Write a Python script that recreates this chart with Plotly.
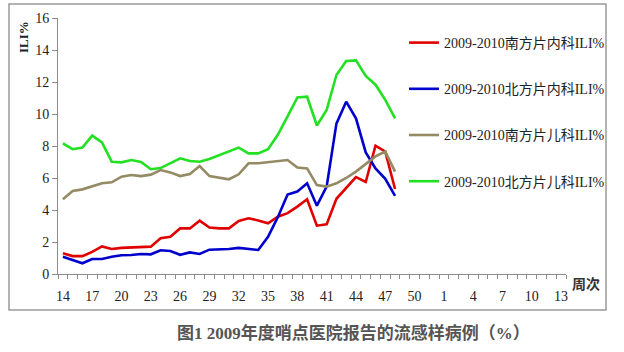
import plotly.graph_objects as go

# ---- data ----
week_labels = [str(w) for w in range(14, 53)] + [str(w) for w in range(1, 14)]
tick_labels = ["14", "17", "20", "23", "26", "29", "32", "35", "38", "41", "44", "47", "50",
               "1", "4", "7", "10", "13"]

south_internal = [1.29, 1.12, 1.12, 1.38, 1.72, 1.56, 1.63, 1.65, 1.71, 1.71, 2.23, 2.33, 2.85,
                  2.85, 3.33, 2.90, 2.85, 2.85, 3.31, 3.48, 3.35, 3.17, 3.58, 3.80, 4.21, 4.67,
                  3.02, 3.10, 4.70, 5.35, 6.05, 5.75, 8.02, 7.65, 5.31]
north_internal = [1.08, 0.88, 0.67, 0.94, 0.94, 1.08, 1.17, 1.19, 1.25, 1.23, 1.48, 1.44, 1.20,
                  1.35, 1.25, 1.52, 1.52, 1.56, 1.63, 1.56, 1.50, 2.33, 3.55, 4.97, 5.15, 5.67,
                  4.27, 5.46, 9.40, 10.77, 9.73, 7.60, 6.60, 5.95, 4.88]
south_pediatric = [4.67, 5.19, 5.29, 5.46, 5.67, 5.73, 6.08, 6.19, 6.12, 6.21, 6.50, 6.35, 6.12,
                   6.25, 6.75, 6.12, 6.04, 5.92, 6.23, 6.92, 6.92, 7.00, 7.08, 7.12, 6.65, 6.60,
                   5.56, 5.46, 5.67, 6.00, 6.40, 6.90, 7.35, 7.65, 6.40]
north_pediatric = [8.17, 7.80, 7.90, 8.65, 8.22, 7.02, 6.98, 7.12, 7.00, 6.55, 6.62, 6.90, 7.23,
                   7.06, 7.02, 7.19, 7.44, 7.69, 7.90, 7.54, 7.54, 7.80, 8.70, 9.85, 11.03, 11.08,
                   9.28, 10.25, 12.44, 13.31, 13.35, 12.38, 11.83, 10.88, 9.73]

series_names = ["2009-2010南方片内科ILI%", "2009-2010北方片内科ILI%",
                "2009-2010南方片儿科ILI%", "2009-2010北方片儿科ILI%"]
series_values = [south_internal, north_internal, south_pediatric, north_pediatric]
series_colors = ["#E00000", "#0000CC", "#948A64", "#22E022"]

caption = "图1 2009年度哨点医院报告的流感样病例（%）"
y_title = "ILI%"
x_title = "周次"

# ---- figure ----
W, H = 624, 352
L, R, T, B = 58, 58, 18, 78
pw, ph = W - L - R, H - T - B

tick_idx = [week_labels.index(t) if i < 13 else 39 + week_labels[39:].index(t)
            for i, t in enumerate(tick_labels)]
xrange = [-0.5, len(week_labels) - 0.5]

fig = go.Figure()
for name, vals, col in zip(series_names, series_values, series_colors):
    fig.add_trace(go.Scatter(
        x=list(range(len(vals))), y=vals, mode="lines", name=name,
        line=dict(color=col, width=2.6), legendgroup=name,
    ))
# invisible trace to carry the label axis
fig.add_trace(go.Scatter(x=xrange, y=[0, 0], xaxis="x2", mode="lines",
                         line=dict(width=0), showlegend=False, hoverinfo="skip"))

serif = "Liberation Serif, Noto Sans CJK SC, serif"
axis_col = "#8C8C8C"

fig.update_layout(
    width=W, height=H,
    margin=dict(l=L, r=R, t=T, b=B, autoexpand=False),
    paper_bgcolor="white", plot_bgcolor="white",
    showlegend=True,
    legend=dict(x=(404 - L) / pw, y=(274 - 27) / ph, xanchor="left", yanchor="top",
                font=dict(family=serif, size=14, color="#222"),
                tracegroupgap=25, bgcolor="rgba(0,0,0,0)", itemwidth=30),
    xaxis=dict(range=xrange, tickmode="linear", tick0=-0.5, dtick=1,
               ticks="outside", ticklen=4, tickcolor=axis_col, showticklabels=False,
               showline=True, linecolor=axis_col, linewidth=1, showgrid=False,
               zeroline=False),
    xaxis2=dict(range=xrange, overlaying="x", anchor="y", side="bottom",
                tickmode="array", tickvals=tick_idx, ticktext=tick_labels, ticks="",
                ticklabelstandoff=12,
                tickfont=dict(family=serif, size=14, color="#222"),
                showline=False, showgrid=False, zeroline=False),
    yaxis=dict(range=[0, 16], tickmode="linear", tick0=0, dtick=2,
               ticks="outside", ticklen=5, tickcolor=axis_col,
               tickfont=dict(family=serif, size=14, color="#222"),
               showline=True, linecolor=axis_col, linewidth=1, showgrid=False,
               zeroline=False),
)

# outer frame
fig.add_shape(type="rect", xref="paper", yref="paper",
              x0=(9 - L) / pw, x1=(606 - L) / pw,
              y0=(274 - 310) / ph, y1=(274 - 4) / ph,
              line=dict(color="#9A9A9A", width=1.5), layer="below")

fig.add_annotation(text=f"<b>{y_title}</b>", xref="paper", yref="paper",
                   x=(23 - L) / pw, y=(274 - 37) / ph, showarrow=False, textangle=-90,
                   xanchor="center", yanchor="middle",
                   font=dict(family=serif, size=13, color="#222"))
fig.add_annotation(text=f"<b>{x_title}</b>", xref="paper", yref="paper",
                   x=(586 - L) / pw, y=(274 - 283) / ph, showarrow=False,
                   xanchor="center", yanchor="middle",
                   font=dict(family="Noto Sans CJK SC", size=14, color="#333"))
fig.add_annotation(text=f"<b>{caption}</b>", xref="paper", yref="paper",
                   x=(353 - L) / pw, y=(274 - 333) / ph, showarrow=False,
                   xanchor="center", yanchor="middle",
                   font=dict(family="Liberation Serif, Noto Sans CJK SC", size=17, color="#555"))

fig.write_html("out.html")
